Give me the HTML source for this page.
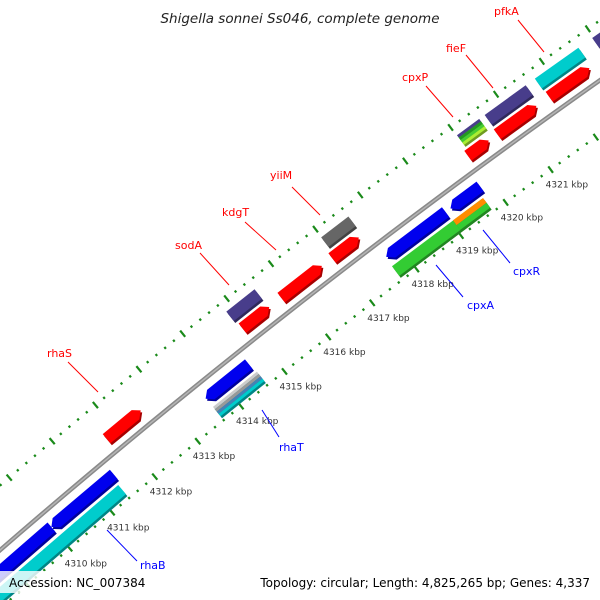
<!DOCTYPE html>
<html><head><meta charset="utf-8"><style>
html,body{margin:0;padding:0;background:#fff;width:600px;height:600px;overflow:hidden;}
svg{display:block;font-family:"DejaVu Sans","Liberation Sans",sans-serif;}
</style></head><body>
<svg id="map" width="600" height="600" viewBox="0 0 600 600" xmlns="http://www.w3.org/2000/svg">
<rect x="0" y="0" width="600" height="600" fill="#fff"/>
<g id="ticks"></g>
<g id="backbone"></g>
<g id="features"></g>
<g id="labels" font-size="11">
  <g><line x1="68" y1="362" x2="98" y2="392" stroke="#f00"/><text x="47" y="357" fill="#f00">rhaS</text></g>
  <g><line x1="200" y1="253" x2="229" y2="285" stroke="#f00"/><text x="175" y="249" fill="#f00">sodA</text></g>
  <g><line x1="245" y1="222" x2="276" y2="250" stroke="#f00"/><text x="222" y="216" fill="#f00">kdgT</text></g>
  <g><line x1="292" y1="187" x2="320" y2="215" stroke="#f00"/><text x="270" y="179" fill="#f00">yiiM</text></g>
  <g><line x1="426" y1="86" x2="453" y2="117" stroke="#f00"/><text x="402" y="81" fill="#f00">cpxP</text></g>
  <g><line x1="466" y1="55" x2="493" y2="88" stroke="#f00"/><text x="446" y="52" fill="#f00">fieF</text></g>
  <g><line x1="518" y1="20" x2="544" y2="52" stroke="#f00"/><text x="494" y="15" fill="#f00">pfkA</text></g>
  <g><line x1="262" y1="410" x2="279" y2="437" stroke="#00f"/><text x="279" y="451" fill="#00f">rhaT</text></g>
  <g><line x1="436" y1="265" x2="463" y2="297" stroke="#00f"/><text x="467" y="309" fill="#00f">cpxA</text></g>
  <g><line x1="483" y1="230" x2="510" y2="263" stroke="#00f"/><text x="513" y="275" fill="#00f">cpxR</text></g>
  <g><line x1="107" y1="530" x2="137" y2="561" stroke="#00f"/><text x="140" y="569" fill="#00f">rhaB</text></g>
</g>
<text x="300" y="23" text-anchor="middle" font-size="13.5" font-style="italic" fill="#222">Shigella sonnei Ss046, complete genome</text>
<rect x="0" y="571" width="152" height="22" fill="#fff" fill-opacity="0.8"/>
<text x="9" y="587" font-size="12" fill="#000">Accession: NC_007384</text>
<rect x="254" y="571" width="346" height="22" fill="#fff" fill-opacity="0.8"/>
<text x="590" y="587" text-anchor="end" font-size="12" fill="#000">Topology: circular; Length: 4,825,265 bp; Genes: 4,337</text>
</svg>
<script>
const geneNames  = ["rhaS","sodA","kdgT","yiiM","cpxP","fieF","pfkA","sodA-cog","yiiM-cog","cpxP-cog","fieF-cog","pfkA-cog","next-cog","rhaB-a","rhaB-b","rhaT","cpxA-blue","cpxR","rhaB-cog","rhaT-cog","cpxA-cog","cpxR-cog"];
const geneStart  = [4311.77,4314.89,4315.77,4316.92,4319.95,4320.60,4321.74,4314.85,4316.99,4320.01,4320.62,4321.72,4322.97,4307.5,4310.0,4313.59,4317.70,4319.14,4307.5,4313.60,4317.68,4319.05];
const geneEnd    = [4312.56,4315.50,4316.69,4317.52,4320.41,4321.46,4322.62,4315.49,4317.60,4320.50,4321.52,4322.67,4324.0,4310.0,4311.46,4314.58,4319.03,4319.80,4311.40,4314.61,4319.69,4319.72];
const geneSlot   = [1,1,1,1,1,1,1,2,2,2,2,2,2,-1,-1,-1,-1,-1,-2,-2,-2,-2];
const geneStrand = [1,1,1,1,1,1,1,0,0,0,0,0,0,0,-1,-1,-1,-1,0,0,0,0];
const geneColor  = ["#ff0000","#ff0000","#ff0000","#ff0000","#ff0000","#ff0000","#ff0000","#483d8b","#666666","#483d8b|#229922|#44cc33|#aaee33","#483d8b","#00cccc","#483d8b","#0000ee","#0000ee","#0000ee","#0000ee","#0000ee","#00cccc","#cccccc|#999999|#4682b4|#00cccc","#33cc33","#ff8c00|#33cc33"];
const tickLabels = ["4310 kbp","4311 kbp","4312 kbp","4313 kbp","4314 kbp","4315 kbp","4316 kbp","4317 kbp","4318 kbp","4319 kbp","4320 kbp","4321 kbp"];
const tickLabelK = [4310,4311,4312,4313,4314,4315,4316,4317,4318,4319,4320,4321];

const NS="http://www.w3.org/2000/svg";
const CX=5035, CY=6360, K0=4310, TH0=-130.51, DPK=0.4173;
const R_BB=7688, R_IN=7644, R_OUT=7737, H=12;
const slotR={1:7704,2:7721,"-1":7672,"-2":7655};
function ang(k){return (TH0+(k-K0)*DPK)*Math.PI/180;}
function pt(k,r){const a=ang(k);return [CX+r*Math.cos(a),CY+r*Math.sin(a)];}
function mk(tag,attrs,parent){const e=document.createElementNS(NS,tag);for(const a in attrs)e.setAttribute(a,attrs[a]);parent.appendChild(e);return e;}
function shade(hex,f){const n=parseInt(hex.slice(1),16);const r=Math.round(((n>>16)&255)*f),g=Math.round(((n>>8)&255)*f),b=Math.round((n&255)*f);return "rgb("+r+","+g+","+b+")";}

const bb=document.getElementById('backbone');
let d="";for(let k=4304;k<=4326;k+=0.5){const p=pt(k,R_BB);d+=(d?"L":"M")+p[0].toFixed(2)+","+p[1].toFixed(2);}
const bbl=mk('path',{d:d,stroke:"#8a8a8a","stroke-width":4.5,fill:"none"},bb);


const bbh=mk('path',{d:d,stroke:"#b5b5b5","stroke-width":1.5,fill:"none"},bb);



const tg=document.getElementById('ticks');
function ring(r,name){
  for(let i=0;i<=100;i++){
    const k=4305+i*0.2;const major=(i%5===0);
    const h=major?4:1.2;const a=pt(k,r-h),b=pt(k,r+h);
    const l=mk('line',{x1:a[0],y1:a[1],x2:b[0],y2:b[1],stroke:"#1a8a1a","stroke-width":2.2},tg);
    
    
  }
}
ring(R_IN,'inner');ring(R_OUT,'outer');
tickLabelK.forEach(function(k,i){
  const p=pt(k,R_IN);
  const t=mk('text',{x:p[0]-5,y:p[1]+18,"font-size":9,fill:"#333"},tg);
  t.textContent=tickLabels[i];
  
  
});

const fg=document.getElementById('features');
function poly(k1,k2,r0,r1,strand,tipR){
  const tip=0.12;let pts=[];
  if(strand===1){pts=[pt(k1,r1),pt(k2-tip,r1),pt(k2,tipR),pt(k2-tip,r0),pt(k1,r0)];}
  else if(strand===-1){pts=[pt(k1,tipR),pt(k1+tip,r1),pt(k2,r1),pt(k2,r0),pt(k1+tip,r0)];}
  else{pts=[pt(k1,r1),pt(k2,r1),pt(k2,r0),pt(k1,r0)];}
  return pts.map(p=>p[0].toFixed(2)+","+p[1].toFixed(2)).join(" ");
}
geneNames.forEach(function(nm,i){
  const rc=slotR[geneSlot[i]];const k1=geneStart[i],k2=geneEnd[i];
  const cols=geneColor[i].split("|");
  const g=mk('g',{},fg);
  
  
  const sh=mk('polygon',{points:poly(k1,k2,rc-H/2,rc+H/2,geneStrand[i],rc),fill:shade(cols[cols.length-1],0.65),transform:"translate(1.5,2)"},g);
  
  
  const n=cols.length;
  for(let s=0;s<n;s++){
    const r1=rc+H/2-s*H/n, r0=rc+H/2-(s+1)*H/n;
    const st=(n===1)?geneStrand[i]:0;
    const p=mk('polygon',{points:poly(k1,k2,r0,r1,st,rc),fill:cols[s]},g);
    
    
  }
});
</script>
</body></html>
